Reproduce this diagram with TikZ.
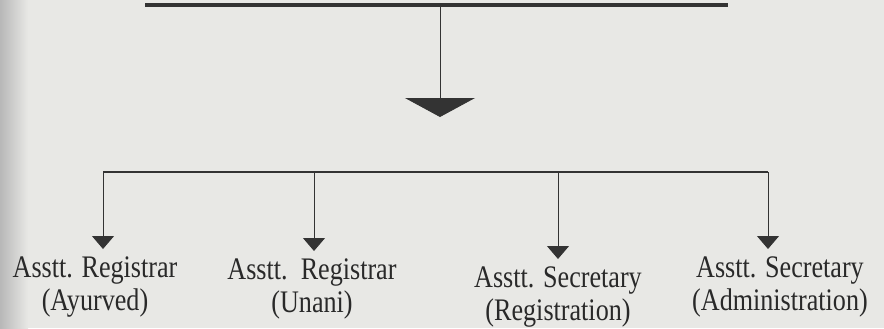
\documentclass[tikz,border=0pt]{standalone}
\usepackage{fontspec}
\setmainfont{Liberation Serif}
\usetikzlibrary{arrows.meta}
\definecolor{inkgray}{HTML}{333333}
\definecolor{paper}{HTML}{E8E8E5}
\newcommand{\tallrow}[1]{\scalebox{1}[1.2]{#1}}

\begin{document}
\begin{tikzpicture}[x=0.03cm,y=-0.03cm]
\tikzstyle{every node}+=[inner sep=0pt]
\tikzstyle{post}=[font=\fontsize{22.3}{28}\selectfont, align=center, text=inkgray!80!black, anchor=north]
\tikzstyle{feed}=[draw=inkgray, line width=0.8pt, shorten >=0.24cm, -{Triangle[length=0.39cm,width=0.66cm]}]
\useasboundingbox (0,0) rectangle (884,328);
\fill [paper] (0,0) rectangle (884,328);
\shade [left color=black!28, right color=paper] (0,0) rectangle (28,328);
% top bar and main arrow
\coordinate (topl) at (145,5);
\coordinate (topr) at (728,5);
\coordinate (topm) at (440,5);
\coordinate (hub) at (440,117);
\draw [inkgray, line width=2.6pt] (topl) -- (topr);
\draw [inkgray, line width=0.8pt, -{Triangle[length=0.57cm,width=2.1cm]}] (topm) -- (hub);
% branch bar
\coordinate (b1) at (103,172);
\coordinate (b2) at (314,172);
\coordinate (b3) at (558,172);
\coordinate (b4) at (768,172);
\draw [inkgray, line width=1.8pt] (b1) -- (b4);
% posts
\node [post] (ayur) at (95,257) {\tallrow{Asstt. Registrar}\\\tallrow{(Ayurved)}};
\node [post] (unani) at (312,259) {\tallrow{Asstt.\ \ Registrar}\\\tallrow{(Unani)}};
\node [post] (regn) at (558,267) {\tallrow{Asstt. Secretary}\\\tallrow{(Registration)}};
\node [post] (admin) at (780,257) {\tallrow{Asstt. Secretary}\\\tallrow{(Administration)}};
\draw [feed] (b1) -- (b1 |- ayur.north);
\draw [feed] (b2) -- (b2 |- unani.north);
\draw [feed] (b3) -- (b3 |- regn.north);
\draw [feed] (b4) -- (b4 |- admin.north);
\end{tikzpicture}
\end{document}
